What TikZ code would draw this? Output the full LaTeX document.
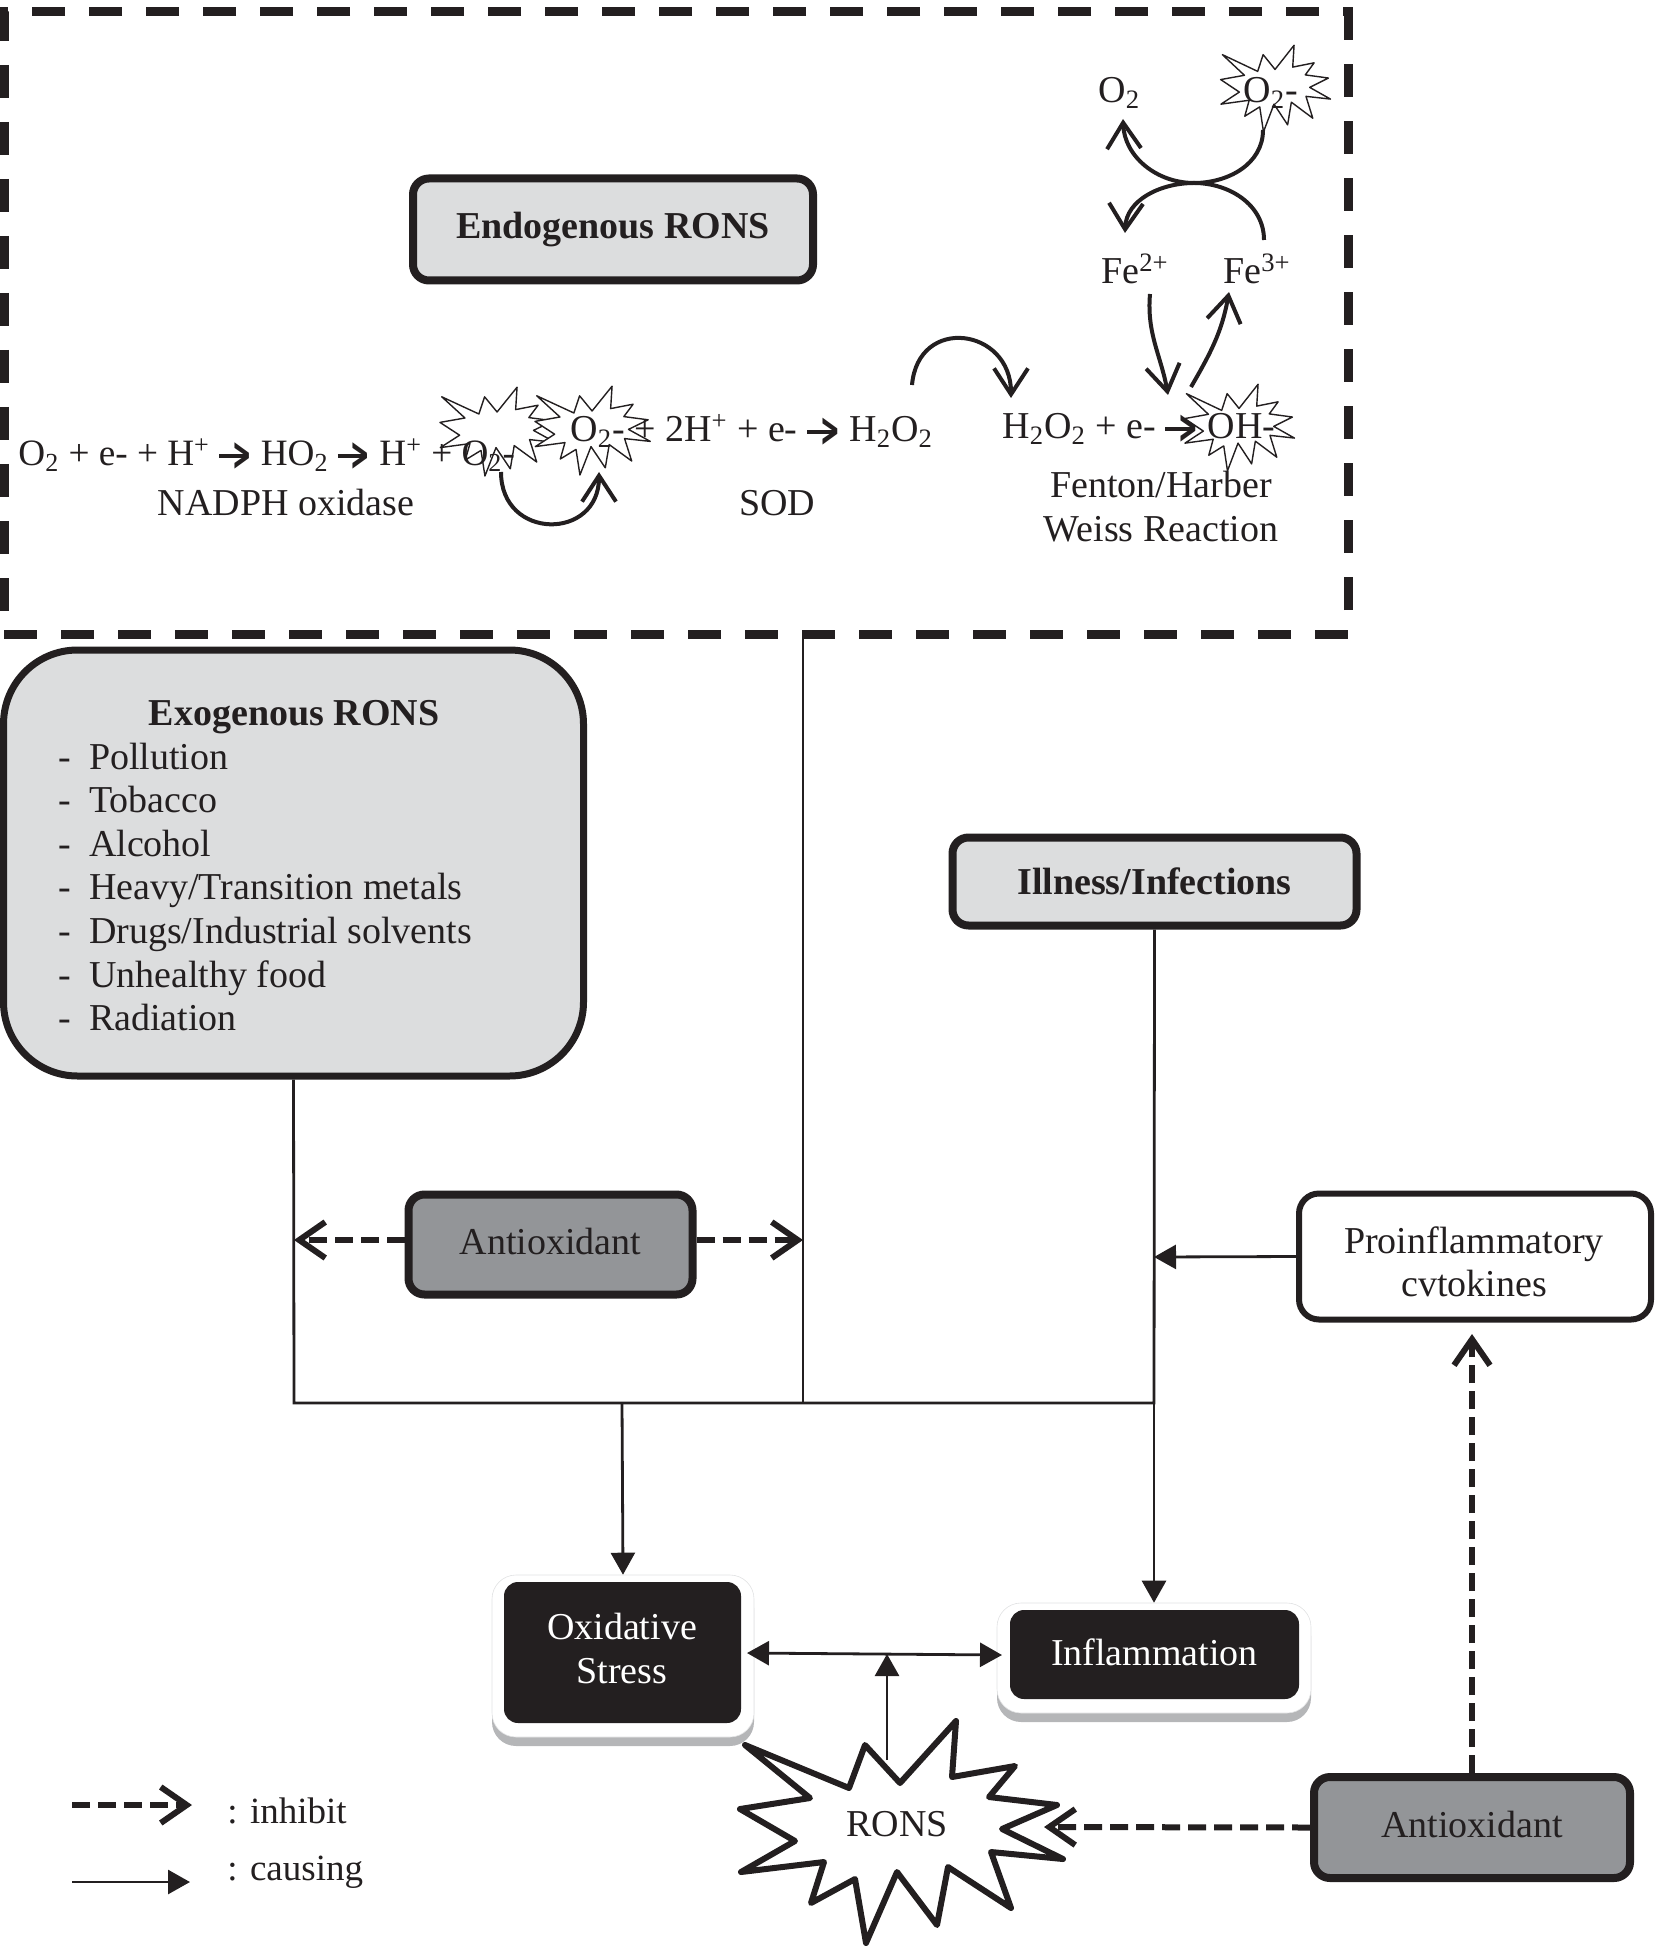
\documentclass[tikz,border=0pt]{standalone}
\usepackage{fontspec}
\setmainfont{Liberation Serif}
\newfontfamily\arrowfont{DejaVu Sans}
\usepackage{tikz}
\usetikzlibrary{arrows.meta,positioning}
\definecolor{ink}{HTML}{231F20}
\definecolor{lightbox}{HTML}{DCDDDE}
\definecolor{midbox}{HTML}{939598}
\definecolor{shadowgray}{HTML}{B5B6B8}
\newcommand{\rarr}{\rule[4pt]{14.5pt}{2pt}\kern-8pt\raisebox{-2.4pt}{\scalebox{.62}[1.25]{\arrowfont\bfseries >}}}

\begin{document}
\begin{tikzpicture}[
      x=0.5pt,y=-0.5pt,
      every node/.style={
         text=ink,
         inner sep=0pt,
         font=\fontsize{19}{21.75}\selectfont},
      box_light/.style={
         rectangle,
         rounded corners=8pt,
         draw=ink,
         fill=lightbox,
         line width=4pt,
         align=center},
      box_mid/.style={
         box_light,
         fill=midbox},
      box_halo/.style={
         rectangle,
         rounded corners=12pt,
         fill=white,
         draw=shadowgray!40,
         line width=0.3pt,
         preaction={fill=shadowgray,transform canvas={yshift=-4.5pt}}},
      box_dark/.style={
         rectangle,
         rounded corners=7pt,
         fill=ink,
         text=white,
         align=center},
      line_plain/.style={
         draw=ink,
         line width=1.4pt},
      arrow_solid/.style={
         line_plain,
         -{Triangle[length=11pt,width=12pt]}},
      arrow_both/.style={
         line_plain,
         {Triangle[length=11pt,width=12pt]}-{Triangle[length=11pt,width=12pt]}},
      arrow_dash/.style={
         -{Straight Barb[length=13pt,width=18pt]},
         draw=ink,
         line width=3pt,
         dash pattern=on 9pt off 4pt},
      arrow_curve/.style={
         -{Straight Barb[length=13pt,width=17pt]},
         draw=ink,
         line width=2pt},
      legend_text/.style={
         anchor=base west,
         font=\fontsize{18.5}{21.75}\selectfont},
      burst/.pic={
         \draw[fill=white,line join=round] (-152,-83) -- (-48,-40) -- (-32,-83) -- (3,-45)
            -- (59,-107) -- (55,-51) -- (118,-62) -- (92,-31) -- (160,-23) -- (105,1)
            -- (166,31) -- (94,24) -- (114,80) -- (51,39) -- (40,97) -- (0,44)
            -- (-31,115) -- (-42,51) -- (-86,75) -- (-73,34) -- (-156,44) -- (-102,13)
            -- (-157,-19) -- (-87,-30) -- cycle;
      }
]
      \useasboundingbox (0,0) rectangle (1654,1946);

      %endogenous frame
      \node[draw=ink,line width=4.5pt,dash pattern=on 16.5pt off 12pt,
            minimum width=672pt,minimum height=311pt] (frame) at (676,323) {};
      \coordinate (frame_out) at (803,634);

      %bursts
      \pic[xscale=0.357,yscale=0.40,line width=0.7pt,draw=ink] at (496,430) {burst};
      \pic[xscale=0.357,yscale=0.40,line width=0.7pt,draw=ink] at (591,429) {burst};
      \pic[xscale=0.34,yscale=0.39,line width=0.7pt,draw=ink] at (1274,87) {burst};
      \pic[xscale=0.34,yscale=0.39,line width=0.7pt,draw=ink] at (1238,426) {burst};
      \pic[scale=1,line width=3pt,draw=ink] at (897,1828) {burst};

      %boxes
      \node[box_light,minimum width=200pt,minimum height=51pt] (endo) at (613,229.5) {\raisebox{0.5pt}{\textbf{Endogenous RONS}}};
      \node[box_light,rounded corners=37pt,line width=3.5pt,minimum width=290pt,minimum height=213pt] (exo) at (293.5,863) {};
      \node[box_light,minimum width=202pt,minimum height=44pt] (ill) at (1154.5,881.5) {\raisebox{-2pt}{\textbf{Illness/Infections}}};
      \node[box_mid,minimum width=142pt,minimum height=50pt] (anti_a) at (550.5,1244.5) {\raisebox{3pt}{Antioxidant}};
      \node[box_light,fill=white,rounded corners=10pt,line width=3pt,minimum width=176pt,minimum height=63pt] (pro) at (1475,1256.5) {};
      \node[align=center] (pro_txt) at (1474,1262) {Proinflammatory\\cvtokines};
      \node[box_mid,minimum width=158pt,minimum height=50.5pt] (anti_b) at (1472,1827.5) {\raisebox{3pt}{Antioxidant}};

      \node[box_halo,minimum width=131pt,minimum height=81pt] (os_halo) at (623,1656) {};
      \node[box_dark,minimum width=118.5pt,minimum height=70.5pt] (os) at (622.5,1652.5) {};
      \node[align=center,text=white] (os_txt) at (622,1648.5) {Oxidative\\Stress};
      \node[box_halo,minimum width=157pt,minimum height=55pt] (infl_halo) at (1154,1658) {};
      \node[box_dark,minimum width=144.5pt,minimum height=44.5pt] (infl) at (1154.5,1654.5) {\raisebox{2pt}{Inflammation}};
      \node (rons) at (897,1824) {RONS};

      %exogenous list
      \node[font=\fontsize{19}{21.75}\selectfont\bfseries] (exo_title) at (294,717) {Exogenous RONS};
      \foreach \i/\y/\txt in {1/769/Pollution,2/812/Tobacco,3/856/Alcohol,4/899/Heavy\slash Transition metals,
                              5/943/Drugs\slash Industrial solvents,6/987/Unhealthy food,7/1030/Radiation}
         \node[anchor=base west] (exo_\i) at (58,\y) {-\hspace{9pt}\txt};

      %reactions
      \node[anchor=base west,font=\fontsize{18.6}{21.75}\selectfont] (eq_a) at (18,466) {O\textsubscript{2} + e- + H\textsuperscript{+} \rarr{} HO\textsubscript{2} \rarr{} H\textsuperscript{+} + O\textsubscript{2}-};
      \node[anchor=base west] (eq_b) at (570,442) {O\textsubscript{2}- + 2H\textsuperscript{+} + e- \rarr{} H\textsubscript{2}O\textsubscript{2}};
      \node[anchor=base west] (eq_c) at (1002,439) {H\textsubscript{2}O\textsubscript{2} + e- \rarr{} OH-};
      \node[anchor=base] (nadph) at (286,516) {NADPH oxidase};
      \node[anchor=base] (sod) at (777,516) {SOD};
      \node[anchor=base] (fenton) at (1161,498) {Fenton/Harber};
      \node[anchor=base] (weiss) at (1161,542) {Weiss Reaction};
      \node[anchor=base west] (o2_top) at (1098,103) {O\textsubscript{2}};
      \node[anchor=base west] (o2m_top) at (1243,103) {O\textsubscript{2}-};
      \node[anchor=base west] (fe2) at (1101,284) {Fe\textsuperscript{2+}};
      \node[anchor=base west] (fe3) at (1223,284) {Fe\textsuperscript{3+}};

      %legend
      \node[legend_text] (leg_a) at (227,1823) {: inhibit};
      \node[legend_text] (leg_b) at (227,1880) {: causing};
      \coordinate (leg_a1) at (72,1805);
      \coordinate (leg_a2) at (192,1805);
      \coordinate (leg_b1) at (72,1882);
      \coordinate (leg_b2) at (190,1882);

      %junctions
      \coordinate (j_exo) at (294,1403);
      \coordinate (j_os) at (622,1403);
      \coordinate (j_endo) at (803,1403);
      \coordinate (j_ill) at (1154,1403);
      \coordinate (pro_tip) at (1154,1257);
      \coordinate (os_tip) at (747,1653);
      \coordinate (infl_tip) at (1002,1655);
      \coordinate (rons_top) at (887,1760);
      \coordinate (link_mid) at (887,1654);
      \coordinate (d_left) at (294,1240);
      \coordinate (d_right) at (803,1240);
      \coordinate (pro_in) at (1472,1334);
      \coordinate (rons_in) at (1044,1827);

      \draw[line_plain] (exo.south) -- (j_exo) -- (j_ill) -- (ill.south);
      \draw[line_plain] (frame_out) -- (j_endo);

      \foreach \i/\j in {% start node/end node
        j_os/os_halo.north,
        j_ill/infl_halo.north,
        pro.west/pro_tip,
        rons_top/link_mid,
        leg_b1/leg_b2}
      \draw [arrow_solid] (\i) -- (\j);
      \draw [arrow_both] (os_tip) -- (infl_tip);

      \foreach \i/\j in {% start node/end node
        anti_a.west |- d_left/d_left,
        anti_a.east |- d_right/d_right,
        anti_b.north/pro_in,
        anti_b.west/rons_in,
        leg_a1/leg_a2}
      \draw [arrow_dash] (\i) -- (\j);

      %curved reactions
      \coordinate (cross) at (1194,183);
      \coordinate (o2m_out) at (1263,130);
      \coordinate (o2_in) at (1123,119);
      \coordinate (fe3_out) at (1264,240);
      \coordinate (fe2_in) at (1125,233);
      \coordinate (fe2_out) at (1150,294);
      \coordinate (oh_in) at (1168,395);
      \coordinate (oh_out) at (1191,387);
      \coordinate (fe3_in) at (1229,292);
      \coordinate (h2o2_out) at (912,385);
      \coordinate (h2o2_in) at (1011,398);
      \coordinate (o2_out) at (501,472);
      \coordinate (o2m_in) at (599,472);

      \draw[arrow_curve,-] (o2m_out) to[out=-90,in=0] (cross);
      \draw[arrow_curve] (cross) to[out=180,in=-88] (o2_in);
      \draw[arrow_curve,-] (fe3_out) to[out=90,in=0] (cross);
      \draw[arrow_curve] (cross) to[out=180,in=88] (fe2_in);
      \draw[arrow_curve] (fe2_out) to[out=-95,in=100] (oh_in);
      \draw[arrow_curve] (oh_out) to[out=60,in=-100] (fe3_in);
      \draw[arrow_curve] (h2o2_out) to[out=85,in=90,looseness=1.8] (h2o2_in);
      \draw[arrow_curve] (o2_out) to[out=-90,in=-90,looseness=1.8] (o2m_in);
\end{tikzpicture}
\end{document}
